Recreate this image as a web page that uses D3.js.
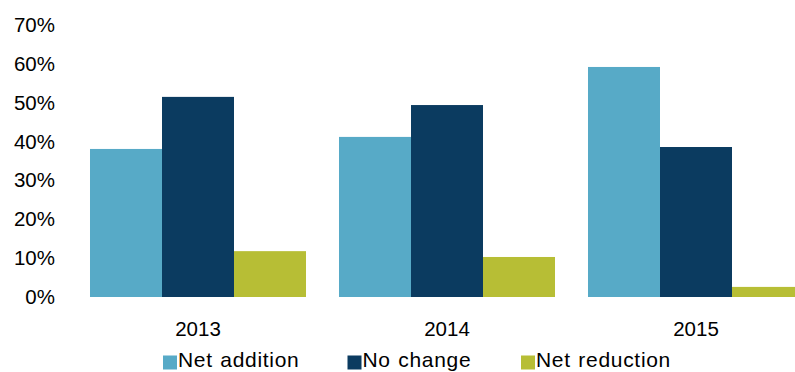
<!DOCTYPE html>
<html>
<head>
<meta charset="utf-8">
<script src="https://cdn.jsdelivr.net/npm/d3@7"></script>
<style>
  html, body { margin: 0; padding: 0; background: #fff; overflow: hidden; }
  svg { display: block; font-family: "Liberation Sans", Arial, sans-serif; }
</style>
</head>
<body>
<svg id="chart" width="795" height="372"></svg>
<script>
// Share of respondents by change, per year (%)
const years = ["2013", "2014", "2015"];
const seriesNames = ["Net addition", "No change", "Net reduction"];
const netAddition = [38.1, 41.2, 59.2];
const noChange = [51.5, 49.4, 38.6];
const netReduction = [11.8, 10.3, 2.6];
const yTicks = [0, 10, 20, 30, 40, 50, 60, 70];
const colors = ["#57aac7", "#0b3b60", "#b7be35"];

const seriesValues = [netAddition, noChange, netReduction];
const rows = years.map((y, i) => ({
  year: y,
  values: seriesNames.map((s, k) => ({ key: s, value: seriesValues[k][i], color: colors[k] }))
}));

const svg = d3.select("#chart");

const y = d3.scaleLinear().domain([0, 70]).range([297, 25]);

const x0 = d3.scaleBand()
  .domain(years)
  .range([73.5, 73.5 + 747])
  .paddingInner(0.1325)
  .paddingOuter(0.06625);

const x1 = d3.scaleBand()
  .domain(seriesNames)
  .range([0, x0.bandwidth()])
  .padding(0);

// Y axis labels
const yAxis = d3.axisLeft(y)
  .tickValues(yTicks)
  .tickFormat(d => d + "%")
  .tickSize(0)
  .tickPadding(7);

const gy = svg.append("g")
  .attr("transform", "translate(62,0)")
  .call(yAxis);
gy.select(".domain").remove();
gy.selectAll("text")
  .attr("fill", "#000")
  .style("font-family", "'Liberation Sans', Arial, sans-serif")
  .style("font-size", "20.5px");

// Bars
const groups = svg.append("g")
  .selectAll("g")
  .data(rows)
  .join("g")
  .attr("transform", d => `translate(${x0(d.year)},0)`);

groups.selectAll("rect")
  .data(d => d.values)
  .join("rect")
  .attr("x", d => x1(d.key))
  .attr("width", x1.bandwidth())
  .attr("y", d => y(d.value))
  .attr("height", d => y(0) - y(d.value))
  .attr("fill", d => d.color);

// X axis labels
const xAxis = d3.axisBottom(x0).tickSize(0).tickPadding(0);
const gx = svg.append("g")
  .attr("transform", "translate(0,297)")
  .call(xAxis);
gx.select(".domain").remove();
gx.selectAll("text")
  .attr("fill", "#000")
  .attr("dy", null)
  .attr("y", 39)
  .style("font-family", "'Liberation Sans', Arial, sans-serif")
  .style("font-size", "20.5px");

// Legend
const legendX = [163, 347.5, 521];
const legend = svg.append("g")
  .selectAll("g")
  .data(seriesNames)
  .join("g")
  .attr("transform", (d, i) => `translate(${legendX[i]},0)`);

legend.append("rect")
  .attr("x", 0)
  .attr("y", 355.5)
  .attr("width", 14)
  .attr("height", 14)
  .attr("fill", (d, i) => colors[i]);

legend.append("text")
  .attr("x", 15)
  .attr("y", 367)
  .attr("fill", "#000")
  .style("font-size", "21px")
  .style("letter-spacing", "0.7px")
  .style("word-spacing", "1px")
  .text(d => d);
</script>
</body>
</html>
